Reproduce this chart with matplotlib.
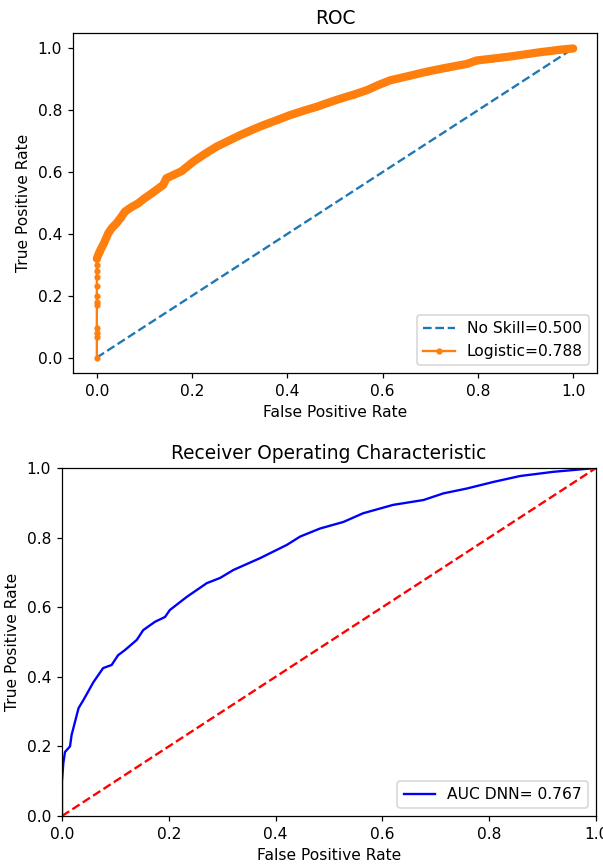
import matplotlib
matplotlib.use("Agg")
import matplotlib.pyplot as plt

# ---- Top chart data (Logistic ROC) ----
ns_fpr = [0.0, 1.0]
ns_tpr = [0.0, 1.0]
ns_label = "No Skill=0.500"

lr_fpr = [0.0, 0.0, 0.0, 0.0, 0.0, 0.0, 0.0, 0.0, 0.0, 0.0, 0.0, 0.0,
          0.006, 0.015, 0.024, 0.032, 0.041, 0.05, 0.059, 0.072, 0.087, 0.10,
          0.115, 0.13, 0.139, 0.146, 0.16, 0.178, 0.202, 0.225, 0.251, 0.275,
          0.30, 0.325, 0.35, 0.378, 0.405, 0.433, 0.461, 0.485, 0.51, 0.54,
          0.567, 0.59, 0.616, 0.655, 0.693, 0.735, 0.777, 0.797, 0.83, 0.868,
          0.90, 0.931, 0.953, 0.973, 1.0]
lr_tpr = [0.0, 0.068, 0.08, 0.097, 0.17, 0.18, 0.20, 0.23, 0.26, 0.28, 0.30, 0.32,
          0.343, 0.37, 0.402, 0.42, 0.434, 0.452, 0.472, 0.486, 0.499, 0.515,
          0.531, 0.548, 0.558, 0.58, 0.59, 0.603, 0.633, 0.657, 0.682, 0.70,
          0.719, 0.736, 0.752, 0.768, 0.784, 0.798, 0.811, 0.824, 0.837, 0.851,
          0.865, 0.881, 0.897, 0.911, 0.925, 0.938, 0.95, 0.961, 0.967, 0.974,
          0.981, 0.988, 0.992, 0.996, 1.0]
lr_label = "Logistic=0.788"

# ---- Bottom chart data (DNN ROC) ----
dnn_fpr = [0.0, 0.0, 0.0025, 0.0056, 0.015, 0.018, 0.031, 0.04, 0.059, 0.077,
           0.093, 0.105, 0.118, 0.14, 0.152, 0.174, 0.193, 0.202, 0.234, 0.271,
           0.296, 0.321, 0.371, 0.421, 0.446, 0.483, 0.527, 0.564, 0.62, 0.677,
           0.714, 0.758, 0.808, 0.858, 0.92, 1.0]
dnn_tpr = [0.0, 0.10, 0.152, 0.184, 0.20, 0.233, 0.31, 0.333, 0.385, 0.425,
           0.434, 0.462, 0.477, 0.506, 0.534, 0.558, 0.572, 0.592, 0.63, 0.669,
           0.684, 0.707, 0.741, 0.779, 0.803, 0.826, 0.845, 0.87, 0.894, 0.908,
           0.927, 0.941, 0.96, 0.977, 0.989, 1.0]
dnn_label = "AUC DNN= 0.767"
diag = [0.0, 1.0]

W, H, DPI = 603, 868, 112
fig = plt.figure(figsize=(W / DPI, H / DPI), dpi=DPI)
plt.rcParams["font.size"] = 10

# Top axes
ax1 = fig.add_axes([73 / W, 1 - 373 / H, (597 - 73) / W, (373 - 33) / H])
ax1.plot(ns_fpr, ns_tpr, linestyle="--", color="C0", label=ns_label)
ax1.plot(lr_fpr[11:], lr_tpr[11:], color="C1", lw=5.3, solid_capstyle="round",
         solid_joinstyle="round")
ax1.plot(lr_fpr, lr_tpr, marker=".", color="C1", label=lr_label)
ax1.set_xlabel("False Positive Rate")
ax1.set_ylabel("True Positive Rate")
ax1.set_title("ROC")
ax1.set_xticks([0.0, 0.2, 0.4, 0.6, 0.8, 1.0])
ax1.set_yticks([0.0, 0.2, 0.4, 0.6, 0.8, 1.0])
ax1.legend(loc="lower right")

# Bottom axes
ax2 = fig.add_axes([62 / W, 1 - 816 / H, (596 - 62) / W, (816 - 468) / H])
ax2.plot(dnn_fpr, dnn_tpr, "b", label=dnn_label)
ax2.plot(diag, diag, "r--")
ax2.set_xlim(0, 1)
ax2.set_ylim(0, 1)
ax2.set_xlabel("False Positive Rate")
ax2.set_ylabel("True Positive Rate")
ax2.set_title("Receiver Operating Characteristic")
ax2.legend(loc="lower right")

fig.savefig("out.png", dpi=DPI)
